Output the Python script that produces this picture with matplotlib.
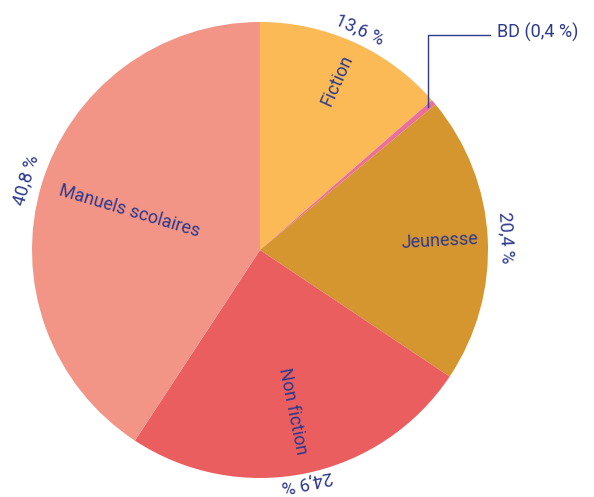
import numpy as np
import matplotlib.pyplot as plt

# Répartition des ventes par catégorie
categories = ['Fiction', 'BD', 'Jeunesse', 'Non fiction', 'Manuels scolaires']
parts = [13.6, 0.4, 20.4, 24.9, 40.8]
pct_labels = ['13,6 %', '0,4 %', '20,4 %', '24,9 %', '40,8 %']
colors = ['#FBBA55', '#EC6F9B', '#D5952F', '#EA5E60', '#F29486']
text_color = '#2E3A8C'

plt.rcParams['font.family'] = ['Roboto', 'DejaVu Sans']
FS = 13

fig = plt.figure(figsize=(5.94, 4.97), dpi=100)
ax = fig.add_axes([0, 0, 1, 1])
R = 228

wedges, _ = ax.pie(parts, colors=colors, startangle=90, counterclock=False,
                   radius=1, wedgeprops=dict(linewidth=0))
ax.set_aspect('auto')
ax.set_xlim(-260 / R, (594 - 260) / R)
ax.set_ylim(-247 / R, 250 / R)
ax.axis('off')

# distance of inner / outer labels (fraction of radius)
inner_r = [0.82, None, 0.79, 0.72, 0.60]
outer_r = [1.06, None, 1.08, 1.035, 1.07]

for i, w in enumerate(wedges):
    if categories[i] == 'BD':
        continue
    mid = (w.theta1 + w.theta2) / 2
    a = np.deg2rad(mid)
    # inner label, radial orientation
    rot = (mid + 180) % 360 - 180
    if rot > 90:
        rot -= 180
    elif rot < -90:
        rot += 180
    ax.text(inner_r[i] * np.cos(a), inner_r[i] * np.sin(a), categories[i],
            rotation=rot, rotation_mode='anchor', ha='center', va='center',
            color=text_color, fontsize=FS)
    # outer percentage, tangential orientation
    ax.text(outer_r[i] * np.cos(a), outer_r[i] * np.sin(a), pct_labels[i],
            rotation=mid - 90, rotation_mode='anchor', ha='center', va='center',
            color=text_color, fontsize=FS)

# BD leader line
w = wedges[1]
mid = np.deg2rad((w.theta1 + w.theta2) / 2)
x0, y0 = 0.97 * np.cos(mid), 0.97 * np.sin(mid)
ytop = (250 - 35) / R
ax.plot([x0, x0, (490 - 260) / R], [y0, ytop, ytop], color=text_color, lw=1)
ax.text((497 - 260) / R, ytop + 0.01, 'BD (0,4 %)', ha='left', va='center',
        color=text_color, fontsize=FS)

fig.savefig('out.png', dpi=100)
